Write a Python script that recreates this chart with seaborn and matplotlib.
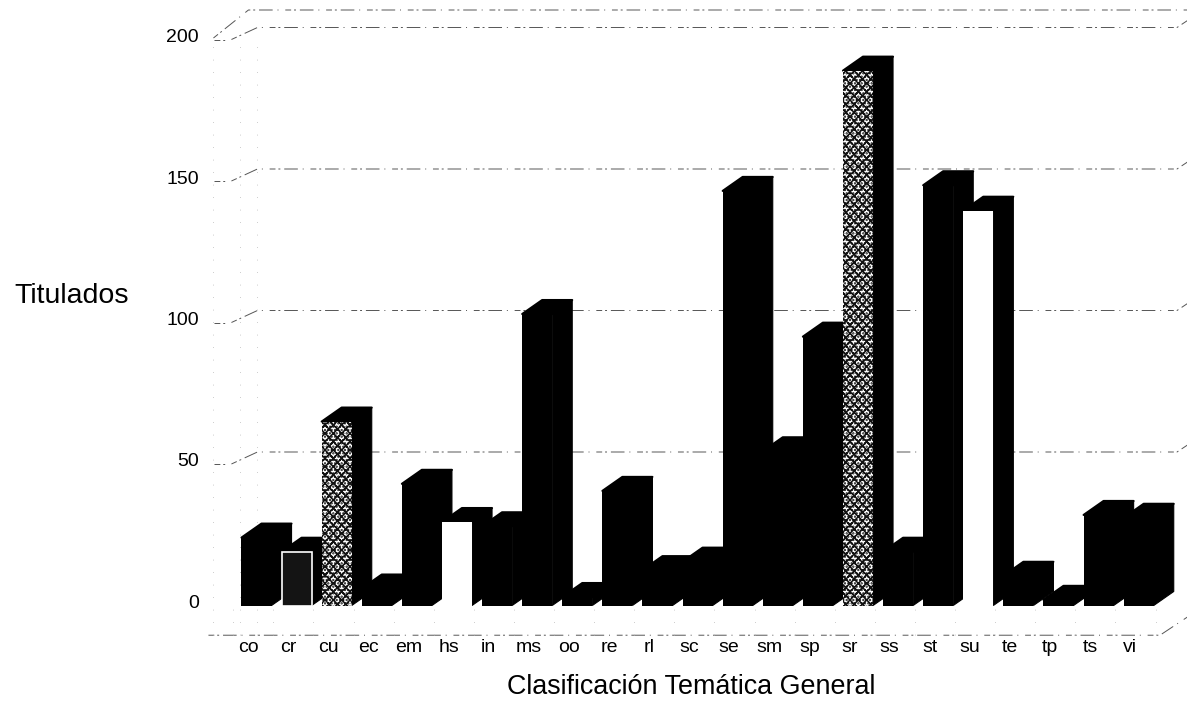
import matplotlib
matplotlib.use("Agg")
import matplotlib.pyplot as plt
from matplotlib.patches import Polygon
from matplotlib.transforms import ScaledTranslation
import seaborn as sns
import pandas as pd

categories = ["co", "cr", "cu", "ec", "em", "hs", "in", "ms", "oo", "re", "rl", "sc",
              "se", "sm", "sp", "sr", "ss", "st", "su", "te", "tp", "ts", "vi"]
titulados = [24, 19, 65, 6, 43, 29.5, 28, 103, 3, 40.5, 12.5, 15.5,
             146.5, 54.5, 95, 189, 19, 148.5, 139.5, 10.5, 2, 32, 31]
y_ticks = [0, 50, 100, 150, 200]
xlabel = "Clasificación Temática General"
ylabel = "Titulados"
textured = ["cu", "sr"]
white_front = ["hs", "su"]
outlined = ["cr"]

W, H = 1187, 701
sns.set_theme(style="white")
plt.rcParams["font.family"] = ["Liberation Sans", "DejaVu Sans"]
plt.rcParams["hatch.linewidth"] = 1.1

fig = plt.figure(figsize=(W / 100, H / 100), dpi=100, facecolor="white")
# axes frame in reference pixels
X0, X1, Y0, Y1 = 236.45, 1158.75, 605.5, 39.5
ax = fig.add_axes([X0 / W, 1 - Y0 / H, (X1 - X0) / W, (Y0 - Y1) / H])
ax.patch.set_alpha(0)

df = pd.DataFrame({"cat": categories, "val": titulados})
sns.barplot(data=df, x="cat", y="val", order=categories, color="black", width=0.75,
            saturation=1, ax=ax, zorder=5)
ax.set_xlim(-0.5, 22.5)
ax.set_ylim(0, 200)
sns.despine(ax=ax, left=True, bottom=True)

ux = (X1 - X0) / 23          # pixels per category
uy = (Y0 - Y1) / 200         # pixels per value unit
depth_x, depth_y = 20 / ux, 14 / uy   # bar depth in data units

# 3D faces, painted from left to right so each front covers the previous side
for i, (cat, bar) in enumerate(zip(categories, ax.patches)):
    x, w, h = bar.get_x(), bar.get_width(), bar.get_height()
    z = 5 + i
    bar.set_zorder(z + 0.5)
    bar.set_clip_on(False)
    bar.set_edgecolor("black")
    bar.set_linewidth(0)
    if cat in textured:
        bar.set_facecolor("white")
        bar.set_edgecolor("#111111")
        bar.set_hatch("xxxx.....")
    elif cat in white_front:
        bar.set_facecolor("white")
    elif cat in outlined:
        bar.set_facecolor("#141414")
        bar.set_edgecolor("white")
        bar.set_linewidth(1.2)
    side = [(x + w, 0), (x + w + depth_x, depth_y), (x + w + depth_x, h + depth_y), (x + w, h)]
    top = [(x, h), (x + depth_x, h + depth_y), (x + w + depth_x, h + depth_y), (x + w, h)]
    ax.add_patch(Polygon(side, closed=True, fc="black", ec="black", lw=0.8, zorder=z, clip_on=False))
    ax.add_patch(Polygon(top, closed=True, fc="black", ec="black", lw=1.5, joinstyle="round",
                         zorder=z, clip_on=False))

# scanned-looking wall and floor lines
wall = dict(color="#555555", lw=0.7, ls=(0, (6, 3, 2, 4, 14, 5, 1, 7)), zorder=1, clip_on=False)
back_x, back_y = 18 / ux, 12 / uy
left_x = -0.5 + 3 / ux
right_x = (1177 - X0) / ux - 0.5
end_x = (1192 - X0) / ux - 0.5
for v in y_ticks[1:]:
    ax.plot([-0.5 - 22 / ux, -0.5 - 10 / ux], [v, v], **wall)
    ax.plot([left_x - 8 / ux, left_x + back_x, right_x, end_x],
            [v, v + back_y, v + back_y, v + back_y + 10 / uy], **wall)
# upper edge
top_v = (Y0 - 10) / uy
ax.plot([-0.5 - 23 / ux, -0.5 + 12 / ux, end_x], [(Y0 - 38) / uy, top_v, top_v], **wall)
# floor
floor = -10.5
ax.plot([-0.5 - 28 / ux, (1160 - X0) / ux - 0.5, end_x], [floor, floor, floor + 7.5], **wall)

# faint dotted verticals
faint = dict(color="#bbbbbb", lw=0.6, ls=(0, (1, 14)), zorder=1, clip_on=False)
for px in (213, 240, 257):
    xv = (px - X0) / ux - 0.5
    ax.plot([xv, xv], [floor, 200], **faint)
for i in range(-1, 23):
    ax.plot([i + 0.42, i + 0.42], [floor, 0], **faint)

# labels
ax.set_xticks([i - 0.21 for i in range(len(categories))], categories)
ax.set_yticks(y_ticks, [str(v) for v in y_ticks])
ax.tick_params(axis="x", length=0, pad=24, labelsize=14, labelcolor="black")
ax.tick_params(axis="y", length=0, pad=27, labelsize=14, labelcolor="black")
up = ScaledTranslation(0, 4 / 100, fig.dpi_scale_trans)
for lab in ax.get_yticklabels():
    lab.set_transform(lab.get_transform() + up)

ax.set_xlabel(xlabel, fontsize=19.4, color="black", va="center")
ax.xaxis.set_label_coords(691 / W, 1 - 687 / H, transform=fig.transFigure)
ax.set_ylabel(ylabel, fontsize=20.5, color="black", rotation=0, ha="center", va="center")
ax.yaxis.set_label_coords(72 / W, 1 - 296 / H, transform=fig.transFigure)

fig.savefig("out.png", dpi=100, facecolor="white")
